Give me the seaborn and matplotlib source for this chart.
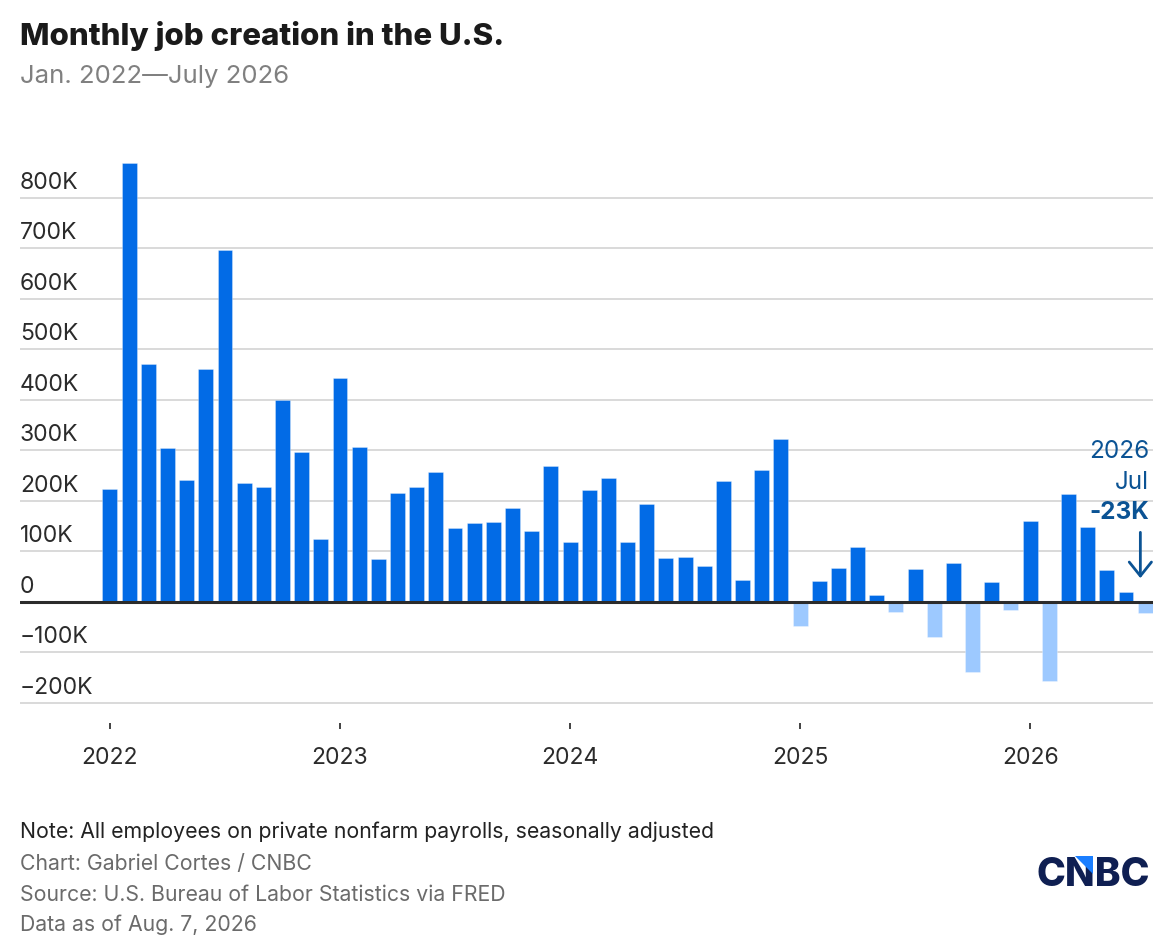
import matplotlib
matplotlib.use("Agg")
import matplotlib.pyplot as plt
from matplotlib.patches import Polygon
import numpy as np
import pandas as pd
import seaborn as sns

# monthly private payroll change, thousands (Jan 2022 - Jul 2026)
jobs_2022 = [224, 869, 471, 305, 241, 461, 696, 236, 227, 400, 297, 125]
jobs_2023 = [444, 306, 85, 216, 227, 257, 147, 156, 158, 186, 141, 269]
jobs_2024 = [119, 222, 246, 118, 193, 87, 88, 71, 240, 44, 261, 323]
jobs_2025 = [-48, 42, 67, 108, 13, -20, 64, -70, 76, -140, 40, -17]
jobs_2026 = [160, -156, 214, 148, 63, 20, -23]
years = ["2022", "2023", "2024", "2025", "2026"]
y_ticks = [-200, -100, 0, 100, 200, 300, 400, 500, 600, 700, 800]

values = jobs_2022 + jobs_2023 + jobs_2024 + jobs_2025 + jobs_2026
df = pd.DataFrame({"month": np.arange(len(values)), "jobs": values})
df["sign"] = np.where(df["jobs"] < 0, "neg", "pos")

POS = "#026BE6"
NEG = "#9DC9FF"
DARK = "#0B5394"

sns.set_style("white")
plt.rcParams["font.family"] = ["Inter", "DejaVu Sans"]

W, H = 1168, 950
fig = plt.figure(figsize=(11.68, 9.5), dpi=100)
# axes placed so 0 sits at y=602px and -200K at y=703px
ax = fig.add_axes([0.017, (H - 723.0) / H, 0.970, (723.0 - 157.3) / H])

sns.barplot(data=df, x="month", y="jobs", hue="sign",
            palette={"pos": POS, "neg": NEG}, dodge=False, width=0.78,
            saturation=1, legend=False, ax=ax, zorder=3,
            edgecolor=(1, 1, 1, 0.35), linewidth=0.6)

ax.set_xlim(-4.7, 54.4)
ax.set_ylim(-240, 880)
ax.set_yticks(y_ticks)
ax.set_yticklabels([])
ax.tick_params(axis="y", length=0)
ax.grid(axis="y", color="#D9D9D9", linewidth=1.4, zorder=0)
ax.axhline(0, color="#2b2b2b", linewidth=2.2, zorder=4)
for s in ax.spines.values():
    s.set_visible(False)

# y labels sit above their gridline
for v in y_ticks:
    if v == 0:
        lab = "0"
    elif v < 0:
        lab = "\u2212%dK" % abs(v)
    else:
        lab = "%dK" % v
    ax.annotate(lab, xy=(0, v), xycoords=("axes fraction", "data"),
                xytext=(0, 6.5), textcoords="offset points",
                ha="left", va="baseline", fontsize=16.5, color="#2b2b2b")

ax.set_xticks([0, 12, 24, 36, 48])
ax.set_xticklabels(years, fontsize=16.5, color="#2b2b2b")
ax.tick_params(axis="x", length=4.5, width=1.3, color="#333333", pad=13, bottom=True)
ax.set_xlabel("")
ax.set_ylabel("")

# annotation for the latest month
last = len(values) - 1
ax.annotate("", xy=(last - 0.25, 0), xycoords="data",
            xytext=(0, 50), textcoords="offset points",
            arrowprops=dict(arrowstyle="->,head_length=0.5,head_width=0.4",
                            mutation_scale=20, color=DARK, lw=2,
                            shrinkA=0, shrinkB=17))
ax.annotate("2026", xy=(last + 0.2, 0), xytext=(0, 108), textcoords="offset points",
            ha="right", va="center", fontsize=17.5, color=DARK)
ax.annotate("Jul", xy=(last + 0.2, 0), xytext=(0, 86), textcoords="offset points",
            ha="right", va="center", fontsize=17.5, color=DARK)
ax.annotate("-23K", xy=(last + 0.2, 0), xytext=(0, 64), textcoords="offset points",
            ha="right", va="center", fontsize=17.5, color=DARK, fontweight="bold")

fig.text(20 / W, 1 - 36 / H, "Monthly job creation in the U.S.", fontsize=22.5,
         fontweight="heavy", color="#1a1a1a", va="center", ha="left")
fig.text(20 / W, 1 - 76 / H, "Jan. 2022\u2014July 2026", fontsize=18.5,
         color="#808080", va="center", ha="left")

fig.text(20 / W, 1 - 832 / H, "Note: All employees on private nonfarm payrolls, seasonally adjusted",
         fontsize=15.3, color="#222222", va="center", ha="left")
fig.text(20 / W, 1 - 864 / H, "Chart: Gabriel Cortes / CNBC",
         fontsize=15.3, color="#6b6b6b", va="center", ha="left")
fig.text(20 / W, 1 - 895 / H, "Source: U.S. Bureau of Labor Statistics via FRED",
         fontsize=15.3, color="#6b6b6b", va="center", ha="left")
fig.text(20 / W, 1 - 925 / H, "Data as of Aug. 7, 2026",
         fontsize=15.3, color="#6b6b6b", va="center", ha="left")

# logo
fig.text(1150 / W, 1 - 876 / H, "CNBC", fontsize=28, fontweight="heavy",
         color="#0F1F52", va="center", ha="right")
tri = np.array([[1075, 856], [1093, 856], [1093, 874]])
fig.add_artist(Polygon(np.column_stack([tri[:, 0] / W, 1 - tri[:, 1] / H]),
                       closed=True, transform=fig.transFigure,
                       facecolor="#1A7EFF", edgecolor="none", zorder=5))

fig.savefig("out.png", dpi=100)
